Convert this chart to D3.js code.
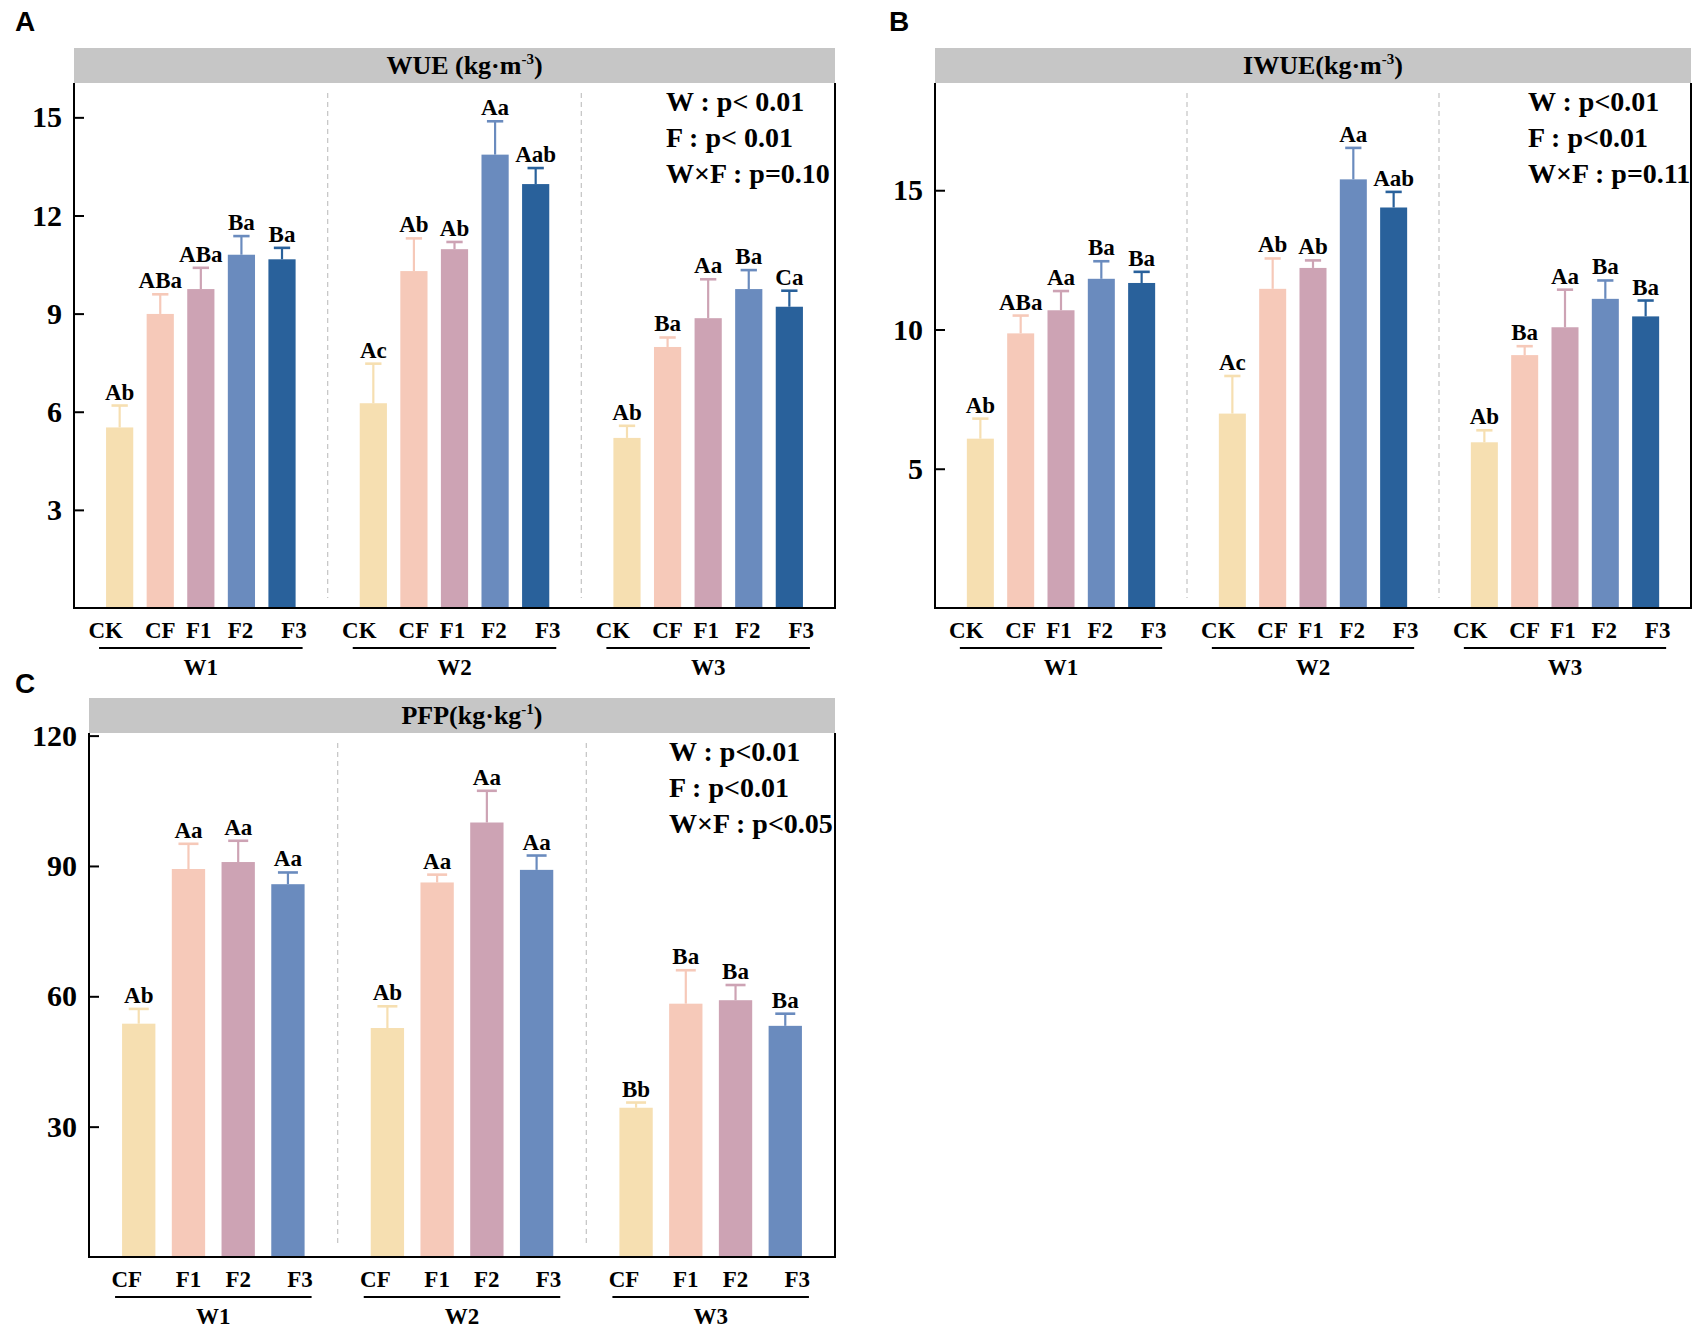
<!DOCTYPE html>
<html>
<head>
<meta charset="utf-8">
<script src="https://cdn.jsdelivr.net/npm/d3@7/dist/d3.min.js"></script>
<style>
  html, body { margin: 0; padding: 0; background: #fff; }
  svg { display: block; }
  text { font-family: "Liberation Serif", "Times New Roman", serif; font-weight: bold; fill: #000; }
</style>
</head>
<body>
<svg id="chart" width="1707" height="1334"></svg>
<script>
// ---------------- DATA ----------------
const groups = ["W1", "W2", "W3"];
const catsAB = ["CK", "CF", "F1", "F2", "F3"];
const catsC = ["CF", "F1", "F2", "F3"];

const wueMean = [
  [5.52, 8.99, 9.75, 10.80, 10.66],
  [6.26, 10.30, 10.97, 13.86, 12.96],
  [5.20, 7.98, 8.86, 9.75, 9.21]
];
const wueErr = [
  [0.67, 0.60, 0.65, 0.57, 0.35],
  [1.21, 1.00, 0.22, 1.02, 0.49],
  [0.37, 0.29, 1.19, 0.58, 0.49]
];
const wueLetters = [
  ["Ab", "ABa", "ABa", "Ba", "Ba"],
  ["Ac", "Ab", "Ab", "Aa", "Aab"],
  ["Ab", "Ba", "Aa", "Ba", "Ca"]
];

const iwueMean = [
  [6.08, 9.86, 10.69, 11.82, 11.67],
  [6.98, 11.46, 12.21, 15.39, 14.38],
  [5.95, 9.08, 10.08, 11.10, 10.47]
];
const iwueErr = [
  [0.72, 0.64, 0.69, 0.63, 0.40],
  [1.35, 1.09, 0.27, 1.13, 0.56],
  [0.43, 0.32, 1.35, 0.66, 0.57]
];
const iwueLetters = [
  ["Ab", "ABa", "Aa", "Ba", "Ba"],
  ["Ac", "Ab", "Ab", "Aa", "Aab"],
  ["Ab", "Ba", "Aa", "Ba", "Ba"]
];

const pfpMean = [
  [53.7, 89.3, 90.9, 85.8],
  [52.7, 86.2, 100.0, 89.1],
  [34.35, 58.3, 59.1, 53.2]
];
const pfpErr = [
  [3.4, 5.8, 4.9, 2.7],
  [5.0, 1.8, 7.3, 3.3],
  [1.2, 7.7, 3.5, 2.8]
];
const pfpLetters = [
  ["Ab", "Aa", "Aa", "Aa"],
  ["Ab", "Aa", "Aa", "Aa"],
  ["Bb", "Ba", "Ba", "Ba"]
];

const wueTicks = [3, 6, 9, 12, 15];
const iwueTicks = [5, 10, 15];
const pfpTicks = [30, 60, 90, 120];

const wueStats = ["W : p< 0.01", "F : p< 0.01", "W×F : p=0.10"];
const iwueStats = ["W : p<0.01", "F : p<0.01", "W×F : p=0.11"];
const pfpStats = ["W : p<0.01", "F : p<0.01", "W×F : p<0.05"];

const colorsAB = ["#F6DFB1", "#F6C9B9", "#CDA3B4", "#6A8BBE", "#29619B"];
const colorsC = ["#F6DFB1", "#F6C9B9", "#CDA3B4", "#6A8BBE"];

// ---------------- LAYOUT ----------------
const svg = d3.select("#chart");

function drawPanel(cfg) {
  const g = svg.append("g");
  const { x0, x1, hTop, hBot, bottom, ymax, cats, mean, err, letters, colors, ticks,
          stats, statsX, title, sup, letter, letterX, letterY, labelOffsets } = cfg;

  // panel letter
  g.append("text").attr("x", letterX).attr("y", letterY)
    .style("font-family", "'Liberation Sans', Arial, sans-serif")
    .style("font-size", "28px").text(letter);

  // header
  g.append("rect").attr("x", x0).attr("y", hTop).attr("width", x1 - x0).attr("height", hBot - hTop)
    .attr("fill", "#C6C6C6");
  const t = g.append("text").attr("x", (x0 + x1) / 2 + 10).attr("y", hTop + 26)
    .attr("text-anchor", "middle").style("font-size", "26px");
  t.append("tspan").text(title);
  t.append("tspan").attr("dy", -10).style("font-size", "15px").text(sup);
  t.append("tspan").attr("dy", 10).text(")");

  const y = d3.scaleLinear().domain([0, ymax]).range([bottom, hBot]);
  const gx = d3.scaleBand().domain(groups).range([x0, x1]);
  const inner = d3.scaleBand().domain(cats)
    .range([gx.bandwidth() * 0.1, gx.bandwidth() * 0.9])
    .paddingInner(0.33).paddingOuter(0.165);
  const bw = inner.bandwidth();

  // separators
  groups.slice(1).forEach(gr => {
    g.append("line").attr("x1", gx(gr)).attr("x2", gx(gr))
      .attr("y1", hBot + 10).attr("y2", bottom - 10)
      .attr("stroke", "#C8C8C8").attr("stroke-width", 1.3).attr("stroke-dasharray", "5,4");
  });

  // bars
  groups.forEach((gr, gi) => {
    const gg = g.append("g").attr("transform", `translate(${gx(gr)},0)`);
    cats.forEach((c, ci) => {
      const v = mean[gi][ci], e = err[gi][ci];
      const cx = inner(c) + bw / 2;
      gg.append("rect").attr("x", inner(c)).attr("y", y(v)).attr("width", bw)
        .attr("height", y(0) - y(v)).attr("fill", colors[ci]);
      gg.append("line").attr("x1", cx).attr("x2", cx).attr("y1", y(v)).attr("y2", y(v + e))
        .attr("stroke", colors[ci]).attr("stroke-width", 2.2);
      gg.append("line").attr("x1", cx - bw * 0.3).attr("x2", cx + bw * 0.3)
        .attr("y1", y(v + e)).attr("y2", y(v + e))
        .attr("stroke", colors[ci]).attr("stroke-width", 2.6);
      gg.append("text").attr("x", cx).attr("y", y(v + e) - 6).attr("text-anchor", "middle")
        .style("font-size", "23px").text(letters[gi][ci]);
      // category label
      gg.append("text").attr("x", cx + labelOffsets[ci]).attr("y", bottom + 30)
        .attr("text-anchor", "middle").style("font-size", "23px").text(c);
    });
    const first = inner(cats[0]) - 7, last = inner(cats[cats.length - 1]) + bw + 7;
    gg.append("line").attr("x1", first).attr("x2", last)
      .attr("y1", bottom + 40).attr("y2", bottom + 40)
      .attr("stroke", "#000").attr("stroke-width", 2);
    gg.append("text").attr("x", gx.bandwidth() / 2).attr("y", bottom + 67)
      .attr("text-anchor", "middle").style("font-size", "23px").text(gr);
  });

  // y axis
  const ax = g.append("g").attr("transform", `translate(${x0},0)`)
    .call(d3.axisLeft(y).tickValues(ticks).tickSizeInner(-10).tickSizeOuter(0).tickPadding(12));
  ax.select(".domain").remove();
  ax.selectAll(".tick line").attr("stroke", "#000").attr("stroke-width", 2);
  ax.selectAll(".tick text").style("font-size", "30px")
    .style("font-family", "'Liberation Serif', 'Times New Roman', serif").style("font-weight", "bold")
    .attr("fill", "#000");

  // frame
  g.append("path").attr("d", `M${x0},${hBot}V${bottom}H${x1}V${hBot}`)
    .attr("fill", "none").attr("stroke", "#000").attr("stroke-width", 2);

  // stats
  stats.forEach((s, i) => {
    g.append("text").attr("x", statsX).attr("y", hBot + 28 + i * 36)
      .style("font-size", "28px").text(s);
  });
}

const offs5 = [-14, 0, -2, -1, 12];
const offs4 = [-12, 0, 0, 12];

drawPanel({ x0: 74, x1: 835, hTop: 48, hBot: 83, bottom: 608, ymax: 16.05,
  cats: catsAB, mean: wueMean, err: wueErr, letters: wueLetters, colors: colorsAB, ticks: wueTicks,
  stats: wueStats, statsX: 666, title: "WUE (kg·m", sup: "-3", letter: "A", letterX: 15, letterY: 31,
  labelOffsets: offs5 });

drawPanel({ x0: 935, x1: 1691, hTop: 48, hBot: 83, bottom: 608, ymax: 18.85,
  cats: catsAB, mean: iwueMean, err: iwueErr, letters: iwueLetters, colors: colorsAB, ticks: iwueTicks,
  stats: iwueStats, statsX: 1528, title: "IWUE(kg·m", sup: "-3", letter: "B", letterX: 889, letterY: 31,
  labelOffsets: offs5 });

drawPanel({ x0: 89, x1: 835, hTop: 698, hBot: 733, bottom: 1257, ymax: 120.6,
  cats: catsC, mean: pfpMean, err: pfpErr, letters: pfpLetters, colors: colorsC, ticks: pfpTicks,
  stats: pfpStats, statsX: 669, title: "PFP(kg·kg", sup: "-1", letter: "C", letterX: 15, letterY: 693,
  labelOffsets: offs4 });
</script>
</body>
</html>
